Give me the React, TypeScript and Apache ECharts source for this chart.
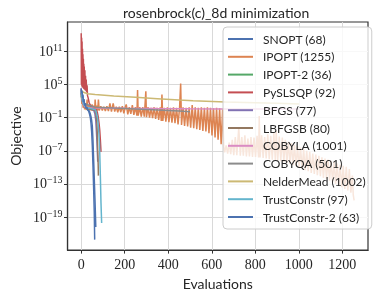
import React, { useEffect, useRef } from 'react';
import * as echarts from 'echarts';

// Values are [evaluation, log10(objective)].
const titleText = 'rosenbrock(c)_8d minimization';
const xTicks = [0, 200, 400, 600, 800, 1000, 1200];
const yTickExponents = [-19, -13, -7, -1, 5, 11];

const seriesNames = [
  'SNOPT (68)', 'IPOPT (1255)', 'IPOPT-2 (36)', 'PySLSQP (92)', 'BFGS (77)', 'LBFGSB (80)',
  'COBYLA (1001)', 'COBYQA (501)', 'NelderMead (1002)', 'TrustConstr (97)', 'TrustConstr-2 (63)',
];
const seriesColors = [
  '#4c72b0', '#dd8452', '#55a868', '#c44e52', '#8172b3', '#937860',
  '#da8bc3', '#8c8c8c', '#ccb974', '#64b5cd', '#4c72b0',
];

const snopt = [[0,4.4],[2,3.0],[3,3.8],[5,2.2],[7,3.0],[9,1.5],[11,2.2],[14,1.0],[17,1.5],[20,0.8],[24,1.0],[28,0.5],[33,0.4],[37,0.2],[41,-0.2],[45,-0.8],[48,-1.5],[51,-2.5],[54,-5],[57,-8.5],[60,-12],[63,-15.5],[65,-18],[67,-20.8]];

const ipopt = [[0,3.5],[3,1.5],[6,2.5],[9,0.8],[12,1.5],[16,0.5],[20,1.2],[24,0.4],[27,2.3],[30,0.4],[34,1.3],[38,0.4],[42,1.2],[46,0.3],[50,1.4],[54,0.3],[58,1.2],[62,0.3],[64,2.3],[68,0.3],[72,1.2],[76,0.3],[79,2.3],[83,0.3],
  [90,1.1],[97,0.3],[104,1.0],[111,0.2],[118,1.1],[125,0.2],[132,1.6],[139,0.1],[147,1.6],[154,0.1],[161,1.0],[168,0.0],[175,1.0],[182,0.0],[189,1.1],[196,-0.2],[203,1.0],[207,1.4],[214,-0.4],[221,0.9],[228,-0.3],[235,1.3],[242,-0.5],[249,0.9],[256,-0.6],[259,4.0],[262,-0.6],[269,0.9],[276,-0.8],[283,0.9],[290,-0.8],[297,3.8],[300,-0.9],
  [307,0.9],[314,-1.0],[321,0.8],[328,-1.1],[335,0.9],[342,-1.2],[349,0.8],[356,-1.4],[363,0.9],[368,-1.6],[371,3.2],[375,-1.6],[382,0.8],[389,-1.7],[396,0.9],[403,-1.8],[410,0.8],[417,-1.9],[424,0.9],[431,-2.0],[438,0.8],[445,-2.2],[452,0.8],[457,5.2],[461,-2.3],[468,0.9],[475,-2.5],[482,0.8],[489,-2.6],[496,0.9],[503,-2.8],
  [510,1.3],[517,-2.9],[524,0.9],[531,-3.1],[538,0.8],[545,-3.2],[552,0.9],[559,-3.4],[566,0.8],[573,-3.5],[580,0.9],[587,-3.8],[594,0.8],[601,-4.2],[608,0.7],[615,-4.6],[622,0.8],[629,-5.0],[636,0.7],[643,-5.8],[650,0.6],[655,-6.4],[659,-7.3],
  [666,-6.0],[673,-7.5],[680,-5.5],[687,-7.6],[694,-5.0],[701,-7.8],[708,-4.5],[715,-7.8],[724,-2.8],[731,-7.9],[738,-4.5],[745,-7.9],[752,-4.2],[759,-8.0],[766,-4.8],[773,-8.0],[780,-4.5],[787,-8.1],[794,-4.6],[801,-8.1],[808,-4.3],[815,-8.2],[818,-0.7],[822,-8.2],[829,-4.2],[836,-8.3],[843,-4.5],[850,-8.4],[857,-4.0],[864,-8.5],[871,-4.3],[878,-8.6],[885,-3.8],[892,-8.7],[896,-3.4],[903,-8.8],
  [910,-4.4],[917,-8.9],[924,-4.6],[931,-9.0],[938,-5.0],[945,-9.2],[952,-5.3],[959,-9.4],[966,-5.6],[973,-9.6],[980,-5.9],[987,-9.8],[994,-6.2],[1001,-10.0],[1008,-6.4],[1015,-10.3],[1022,-6.7],[1029,-10.5],[1036,-7.0],[1043,-10.7],[1050,-7.2],[1057,-11.0],[1064,-7.5],[1071,-11.2],[1078,-7.7],[1085,-11.4],[1092,-7.9],[1099,-11.6],[1106,-8.2],
  [1113,-11.9],[1120,-8.4],[1127,-12.1],[1134,-8.6],[1141,-12.4],[1148,-8.8],[1155,-12.7],[1162,-9.0],[1169,-13.0],[1176,-9.3],[1183,-13.3],[1190,-9.5],[1197,-13.6],[1204,-9.7],[1211,-13.9],[1218,-9.9],[1225,-14.2],[1232,-10.3],[1239,-14.6],[1246,-11.5],[1250,-15.0],[1254,-16.0]];

const ipopt2 = [[0,3.0],[3,2.4],[6,1.9],[10,1.5],[15,1.2],[20,0.9],[25,0.7],[30,0.5],[35,0.3]];

const pyslsqp = [[0,14.3],[1,5.0],[2,13.5],[3,4.8],[4,12.8],[5,4.6],[6,11.5],[7,4.5],[8,10.5],[9,4.4],[10,9.7],[11,4.3],[12,8.8],[13,4.2],[14,8.3],[15,4.1],[17,7.6],[18,4.0],[20,6.6],[21,3.9],[23,5.9],[25,3.6],[27,4.9],[29,3.0],[32,2.6],[36,1.8],[40,1.4],[45,1.1],[50,0.9],[55,0.8],[60,0.7],[65,0.6],[70,0.4],[74,0],[78,-0.8],[82,-2],[85,-3.2],[88,-5],[91,-7.2]];

const bfgs = [[0,3.4],[3,2.6],[6,1.9],[10,1.4],[15,1.0],[20,0.8],[30,0.7],[40,0.6],[50,0.5],[58,0.3],[63,-0.3],[67,-1.5],[70,-3.5],[73,-6],[76,-9]];

const lbfgsb = [[0,3.6],[3,2.8],[6,2.0],[10,1.5],[15,1.1],[20,0.9],[30,0.7],[40,0.6],[50,0.5],[60,0.4],[65,0.2],[69,-0.6],[72,-2],[74,-4],[76,-7],[78,-9.5],[79,-11.5]];

const cobyla = [[0,4.3],[3,3.0],[6,2.0],[10,1.5],[15,1.1],[20,0.9],[40,0.8],[100,0.78],[200,0.72],[350,0.66],[500,0.62],[663,0.6],[800,0.59],[1000,0.58]];

const cobyqa = [[0,4.0],[3,3.1],[6,2.4],[10,1.9],[15,1.6],[20,1.5],[40,1.2],[64,0.9],[150,0.75],[250,0.6],[350,0.4],[450,0.2],[500,0.08]];

const nelderMead = [[0,4.0],[5,3.8],[13,3.56],[30,3.35],[64,3.2],[150,2.95],[250,2.7],[350,2.45],[450,2.2],[514,2.06],[663,1.85],[800,1.7],[900,1.6],[1001,1.5]];

const trustConstr = [[0,3.8],[3,3.0],[6,2.2],[10,1.6],[15,1.2],[20,1.0],[30,0.8],[40,0.7],[50,0.6],[60,0.5],[66,0.4],[70,-0.2],[75,-1.0],[80,-3.0],[84,-5.5],[88,-11.5],[91,-16.5],[94,-20.1]];

const trustConstr2 = [[0,4.2],[2,3.4],[4,3.9],[6,2.6],[8,3.2],[10,1.8],[13,2.4],[16,1.2],[19,1.6],[22,0.7],[26,0.9],[30,0.4],[34,0.2],[38,-0.3],[42,-1.0],[45,-2],[48,-3.5],[51,-6],[54,-9.5],[57,-13.5],[60,-18],[62,-23.1]];

const allData = [snopt, ipopt, ipopt2, pyslsqp, bfgs, lbfgsb, cobyla, cobyqa, nelderMead, trustConstr, trustConstr2];

const serif = '"Liberation Serif", "DejaVu Serif", serif';
const sans = 'Lato, "Open Sans", sans-serif';
const dark = '#262626';

export default function App() {
  const ref = useRef<HTMLDivElement>(null);
  useEffect(() => {
    const chart = echarts.init(ref.current!, undefined, { renderer: 'svg' });
    const option: any = {
      animation: false,
      title: {
        text: titleText,
        left: 123,
        top: 5,
        padding: 0,
        textStyle: { fontFamily: sans, fontSize: 14, fontWeight: 'normal', color: dark },
      },
      grid: {
        left: 62, right: 6, top: 22, bottom: 44,
        show: true, borderColor: '#333', borderWidth: 1.2, backgroundColor: 'transparent',
      },
      legend: {
        orient: 'vertical',
        left: 223,
        top: 27,
        padding: [5, 6, 5, 5],
        icon: 'rect',
        itemWidth: 25,
        itemHeight: 2,
        itemGap: 3.8,
        backgroundColor: 'rgba(255,255,255,0.8)',
        borderColor: '#cccccc',
        borderWidth: 1,
        borderRadius: 4,
        textStyle: { fontFamily: sans, fontSize: 12, color: dark, lineHeight: 14, padding: [0, 0, 0, 5] },
        data: seriesNames,
      },
      xAxis: {
        type: 'value',
        min: -62.75,
        max: 1317.75,
        name: 'Evaluations',
        nameLocation: 'middle',
        nameGap: 22,
        nameTextStyle: { fontFamily: sans, fontSize: 14, color: dark },
        axisLine: { show: true, onZero: false, lineStyle: { color: '#333', width: 1.2 } },
        axisTick: { show: true, length: 3.5, lineStyle: { color: '#333' }, customValues: xTicks },
        axisLabel: {
          customValues: xTicks, margin: 7, fontFamily: serif, fontSize: 14, color: dark,
          formatter: (v: number) => String(v),
        },
        splitLine: { show: true, lineStyle: { color: '#d9d9d9', width: 1 } },
      },
      yAxis: {
        type: 'value',
        min: -25,
        max: 16.35,
        name: 'Objective',
        nameLocation: 'middle',
        nameGap: 43,
        nameTextStyle: { fontFamily: sans, fontSize: 14, color: dark },
        axisLine: { show: true, onZero: false, lineStyle: { color: '#333', width: 1.2 } },
        axisTick: { show: true, length: 3.5, lineStyle: { color: '#333' }, customValues: yTickExponents },
        axisLabel: {
          customValues: yTickExponents,
          margin: 5,
          formatter: (v: number) => {
            const s = v < 0 ? '\u2212' + Math.abs(v) : String(v);
            return `{b|10}{s|${s}}`;
          },
          rich: {
            b: { fontFamily: serif, fontSize: 14, color: dark, verticalAlign: 'bottom', lineHeight: 14 },
            s: { fontFamily: serif, fontSize: 10, color: dark, verticalAlign: 'bottom', lineHeight: 11, padding: [0, 0, 6, 0] },
          },
        },
        splitLine: { show: true, lineStyle: { color: '#d9d9d9', width: 1 } },
      },
      series: allData.map((d, i) => ({
        name: seriesNames[i],
        type: 'line',
        data: d,
        symbol: 'none',
        showSymbol: false,
        color: seriesColors[i],
        lineStyle: { color: seriesColors[i], width: 1.5 },
      })),
    };
    chart.setOption(option);
    return () => chart.dispose();
  }, []);
  return <div ref={ref} style={{ position: 'fixed', left: 0, top: 0, width: 374, height: 295 }} />;
}
